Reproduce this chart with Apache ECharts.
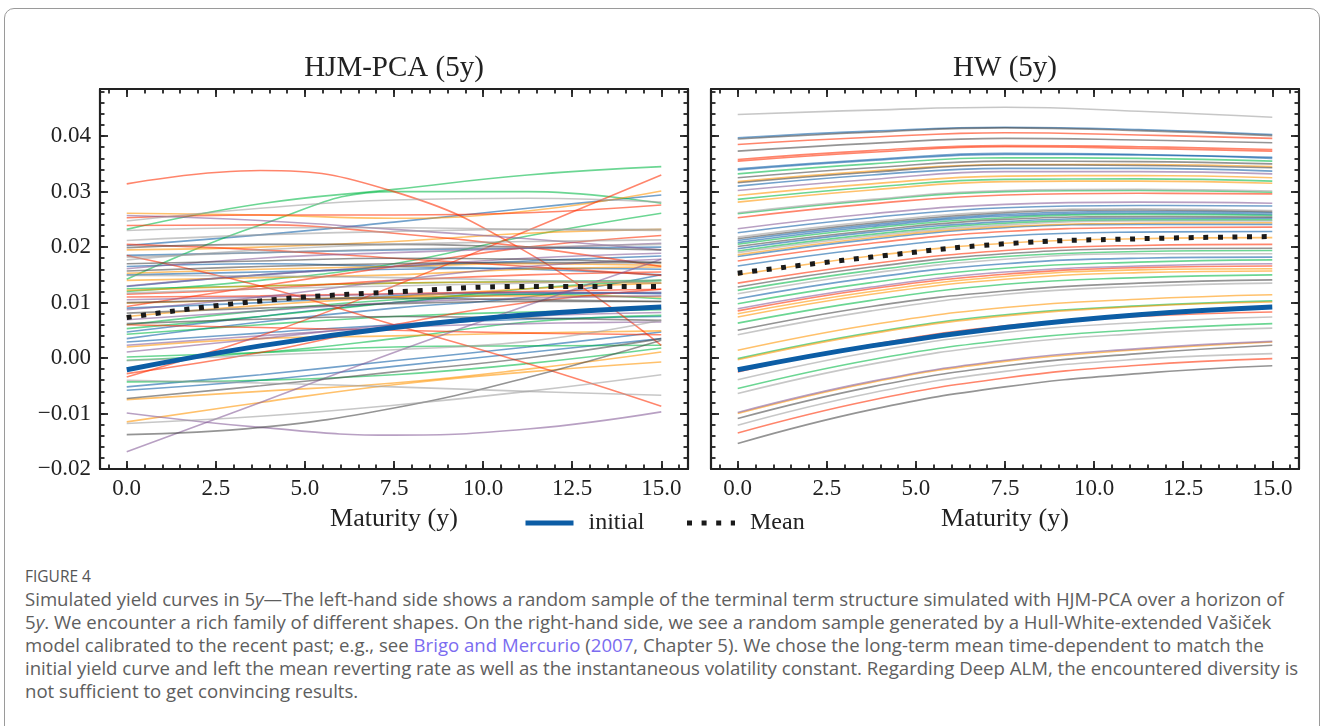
<!DOCTYPE html>
<html><head><meta charset="utf-8">
<script src="https://cdn.jsdelivr.net/npm/echarts@6/dist/echarts.min.js"></script>
<style>
html,body{margin:0;padding:0;background:#fff;width:1326px;height:726px;overflow:hidden;}
#frame{position:absolute;left:4px;top:8px;width:1316px;height:760px;border:1.5px solid #9a9a9a;border-radius:10px;box-sizing:border-box;}
#chart{position:absolute;left:0;top:0;width:1326px;height:560px;}
#cap{position:absolute;left:25px;top:565px;font-family:"Open Sans",sans-serif;color:#5e5e5e;white-space:nowrap;}
#cap .fig{font-size:15.5px;line-height:22px;color:#555;font-weight:500;}
#cap .txt{font-size:18.6px;line-height:23px;}
#cap a{color:#7b6cf0;text-decoration:none;}
</style></head>
<body>
<div id="frame"></div>
<div id="chart"></div>
<div id="cap"><div class="fig">FIGURE 4</div><div class="txt">Simulated yield curves in 5<i>y</i>—The left-hand side shows a random sample of the terminal term structure simulated with HJM-PCA over a horizon of<br>5<i>y</i>. We encounter a rich family of different shapes. On the right-hand side, we see a random sample generated by a Hull-White-extended Vašiček<br>model calibrated to the recent past; e.g., see <a>Brigo and Mercurio</a> (<a>2007</a>, Chapter 5). We chose the long-term mean time-dependent to match the<br>initial yield curve and left the mean reverting rate as well as the instantaneous volatility constant. Regarding Deep ALM, the encountered diversity is<br>not sufficient to get convincing results.</div></div>
<script>
// ---------- data ----------
const maturities = [0, 3.75, 7.5, 11.25, 15];
const xTicks = [0, 2.5, 5, 7.5, 10, 12.5, 15];
const yTicks = [-0.02, -0.01, 0, 0.01, 0.02, 0.03, 0.04];
const panelTitles = ['HJM-PCA (5y)', 'HW (5y)'];

const initialCurve = [-0.0021, 0.0022, 0.0055, 0.0078, 0.0092];
const meanHJM = [0.0073, 0.0103, 0.0119, 0.0129, 0.0129];
const meanHW = [0.0153, 0.0182, 0.0206, 0.0215, 0.0219];

// HJM-PCA sample curves, grouped by colour
const hjmBlue = [
  [0.0203, 0.0222, 0.0245, 0.0270, 0.0294],
  [0.0165, 0.0170, 0.0165, 0.0160, 0.0150],
  [0.0129, 0.0150, 0.0165, 0.0175, 0.0184],
  [0.0047, 0.0075, 0.0100, 0.0115, 0.0118],
  [0.0035, 0.0065, 0.0090, 0.0110, 0.0150],
  [0.0029, 0.0045, 0.0060, 0.0070, 0.0075],
  [-0.0052, -0.0030, -0.0005, 0.0020, 0.0047],
  [-0.0058, -0.0040, -0.0015, 0.0010, 0.0035],
  [0.0150, 0.0155, 0.0160, 0.0162, 0.0160],
  [0.0090, 0.0100, 0.0112, 0.0118, 0.0116],
  [0.0185, 0.0190, 0.0195, 0.0198, 0.0200]
];
const hjmGreen = [
  [0.0232, 0.0278, 0.0304, 0.0330, 0.0345],
  [0.0142, 0.0240, 0.0300, 0.0300, 0.0279],
  [0.0053, 0.0075, 0.0100, 0.0125, 0.0140],
  [0.0043, 0.0060, 0.0075, 0.0083, 0.0087],
  [0.0002, 0.0010, 0.0020, 0.0022, 0.0023],
  [-0.0004, 0.0010, 0.0035, 0.0065, 0.0077],
  [-0.0043, -0.0040, -0.0030, -0.0010, 0.0018],
  [0.0125, 0.0130, 0.0135, 0.0138, 0.0140],
  [0.0060, 0.0085, 0.0105, 0.0115, 0.0107],
  [0.0120, 0.0140, 0.0170, 0.0220, 0.0261]
];
const hjmOrange = [
  [0.0261, 0.0258, 0.0252, 0.0265, 0.0301],
  [0.0195, 0.0200, 0.0210, 0.0225, 0.0232],
  [0.0153, 0.0160, 0.0165, 0.0170, 0.0167],
  [0.0122, 0.0130, 0.0135, 0.0137, 0.0135],
  [0.0099, 0.0105, 0.0110, 0.0112, 0.0110],
  [-0.0075, -0.0060, -0.0045, -0.0020, 0.0011],
  [-0.0115, -0.0080, -0.0048, -0.0025, -0.0007],
  [0.0075, 0.0095, 0.0110, 0.0125, 0.0135],
  [0.0140, 0.0145, 0.0150, 0.0160, 0.0164],
  [0.0020, 0.0035, 0.0040, 0.0045, 0.0049]
];
const hjmRed = [
  [0.0314, 0.0338, 0.0300, 0.0190, 0.0023],
  [0.0253, 0.0258, 0.0258, 0.0262, 0.0276],
  [0.0239, 0.0240, 0.0225, 0.0200, 0.0165],
  [0.0110, 0.0112, 0.0116, 0.0120, 0.0124],
  [0.0093, 0.0130, 0.0165, 0.0200, 0.0221],
  [-0.0028, 0.0010, 0.0060, 0.0100, 0.0124],
  [-0.0034, 0.0040, 0.0130, 0.0230, 0.0330],
  [0.0185, 0.0130, 0.0060, -0.0010, -0.0087],
  [0.0115, 0.0125, 0.0140, 0.0150, 0.0155],
  [0.0205, 0.0195, 0.0180, 0.0165, 0.0149],
  [0.0060, 0.0055, 0.0050, 0.0045, 0.0042]
];
const hjmPurple = [
  [0.0257, 0.0248, 0.0232, 0.0215, 0.0195],
  [0.0161, 0.0180, 0.0190, 0.0198, 0.0207],
  [0.0105, 0.0110, 0.0115, 0.0118, 0.0118],
  [0.0087, 0.0110, 0.0140, 0.0165, 0.0178],
  [0.0069, 0.0085, 0.0100, 0.0108, 0.0112],
  [0.0023, 0.0040, 0.0055, 0.0062, 0.0065],
  [0.0011, 0.0035, 0.0060, 0.0075, 0.0082],
  [-0.0099, -0.0125, -0.0139, -0.0128, -0.0097],
  [-0.0169, -0.0080, 0.0010, 0.0095, 0.0178],
  [0.0130, 0.0150, 0.0165, 0.0180, 0.0189]
];
const hjmDark = [
  [0.0199, 0.0205, 0.0205, 0.0200, 0.0195],
  [0.0157, 0.0165, 0.0170, 0.0172, 0.0172],
  [0.0081, 0.0090, 0.0098, 0.0102, 0.0102],
  [0.0062, 0.0070, 0.0075, 0.0072, 0.0068],
  [-0.0073, -0.0050, -0.0025, 0.0000, 0.0035],
  [-0.0138, -0.0125, -0.0090, -0.0035, 0.0032],
  [0.0170, 0.0175, 0.0180, 0.0178, 0.0172],
  [0.0100, 0.0105, 0.0108, 0.0105, 0.0102]
];
const hjmGrey = [
  [0.0247, 0.0270, 0.0285, 0.0288, 0.0281],
  [0.0212, 0.0222, 0.0228, 0.0232, 0.0232],
  [0.0182, 0.0190, 0.0196, 0.0200, 0.0205],
  [0.0177, 0.0195, 0.0205, 0.0210, 0.0213],
  [0.0149, 0.0148, 0.0145, 0.0140, 0.0135],
  [0.0117, 0.0125, 0.0130, 0.0135, 0.0140],
  [-0.0118, -0.0105, -0.0085, -0.0060, -0.0030],
  [-0.0040, -0.0045, -0.0052, -0.0060, -0.0067],
  [0.0230, 0.0235, 0.0235, 0.0232, 0.0230],
  [-0.0005, 0.0005, 0.0015, 0.0030, 0.0068]
];

// Hull-White sample curves, grouped by colour
const hwBlue = [
  [0.0397, 0.0409, 0.0416, 0.0412, 0.0403],
  [0.0341, 0.0358, 0.0369, 0.0367, 0.0362],
  [0.0339, 0.0356, 0.0367, 0.0366, 0.0360],
  [0.0310, 0.0330, 0.0342, 0.0342, 0.0337],
  [0.0226, 0.0253, 0.0271, 0.0275, 0.0274],
  [0.0212, 0.0240, 0.0259, 0.0264, 0.0262],
  [0.0208, 0.0237, 0.0256, 0.0261, 0.0259],
  [0.0197, 0.0227, 0.0246, 0.0252, 0.0252],
  [0.0183, 0.0214, 0.0235, 0.0241, 0.0241],
  [0.0166, 0.0198, 0.0220, 0.0227, 0.0228],
  [0.0107, 0.0145, 0.0170, 0.0180, 0.0182]
];
const hwGreen = [
  [0.0332, 0.0350, 0.0361, 0.0360, 0.0355],
  [0.0286, 0.0308, 0.0322, 0.0323, 0.0319],
  [0.0260, 0.0284, 0.0300, 0.0302, 0.0299],
  [0.0205, 0.0234, 0.0253, 0.0259, 0.0257],
  [0.0193, 0.0223, 0.0243, 0.0249, 0.0249],
  [0.0122, 0.0158, 0.0183, 0.0192, 0.0194],
  [0.0098, 0.0136, 0.0162, 0.0173, 0.0177],
  [0.0063, 0.0104, 0.0133, 0.0145, 0.0150],
  [-0.0001, 0.0046, 0.0078, 0.0094, 0.0103],
  [-0.0055, -0.0003, 0.0032, 0.0051, 0.0062]
];
const hwOrange = [
  [0.0318, 0.0337, 0.0349, 0.0349, 0.0345],
  [0.0293, 0.0314, 0.0328, 0.0329, 0.0325],
  [0.0281, 0.0303, 0.0318, 0.0319, 0.0315],
  [0.0186, 0.0217, 0.0237, 0.0243, 0.0244],
  [0.0150, 0.0184, 0.0207, 0.0215, 0.0217],
  [0.0080, 0.0120, 0.0147, 0.0159, 0.0161],
  [0.0074, 0.0115, 0.0142, 0.0154, 0.0157],
  [0.0014, 0.0060, 0.0091, 0.0106, 0.0114],
  [-0.0003, 0.0044, 0.0076, 0.0093, 0.0101],
  [-0.0100, -0.0044, -0.0006, 0.0015, 0.0029]
];
const hwRed = [
  [0.0385, 0.0398, 0.0406, 0.0402, 0.0396],
  [0.0358, 0.0374, 0.0383, 0.0381, 0.0376],
  [0.0355, 0.0371, 0.0381, 0.0378, 0.0373],
  [0.0253, 0.0278, 0.0294, 0.0297, 0.0296],
  [0.0175, 0.0207, 0.0228, 0.0235, 0.0236],
  [0.0135, 0.0170, 0.0194, 0.0203, 0.0205],
  [0.0085, 0.0125, 0.0151, 0.0163, 0.0166],
  [-0.0025, 0.0024, 0.0058, 0.0075, 0.0083],
  [-0.0135, -0.0076, -0.0036, -0.0013, -0.0001]
];
const hwPurple = [
  [0.0302, 0.0322, 0.0336, 0.0336, 0.0332],
  [0.0233, 0.0260, 0.0277, 0.0281, 0.0279],
  [0.0089, 0.0128, 0.0155, 0.0166, 0.0170],
  [-0.0098, -0.0042, -0.0004, 0.0017, 0.0030]
];
const hwDark = [
  [0.0395, 0.0407, 0.0415, 0.0410, 0.0401],
  [0.0373, 0.0387, 0.0396, 0.0393, 0.0388],
  [0.0325, 0.0343, 0.0355, 0.0354, 0.0350],
  [0.0316, 0.0335, 0.0348, 0.0347, 0.0343],
  [0.0215, 0.0243, 0.0262, 0.0267, 0.0264],
  [0.0201, 0.0230, 0.0250, 0.0255, 0.0254],
  [0.0128, 0.0164, 0.0188, 0.0197, 0.0198],
  [0.0050, 0.0093, 0.0121, 0.0135, 0.0141],
  [-0.0109, -0.0052, -0.0014, 0.0008, 0.0023],
  [-0.0154, -0.0093, -0.0052, -0.0028, -0.0014]
];
const hwGrey = [
  [0.0439, 0.0447, 0.0452, 0.0445, 0.0434],
  [0.0262, 0.0286, 0.0302, 0.0304, 0.0301],
  [0.0218, 0.0246, 0.0264, 0.0269, 0.0266],
  [0.0190, 0.0220, 0.0240, 0.0247, 0.0247],
  [0.0116, 0.0153, 0.0178, 0.0188, 0.0188],
  [0.0042, 0.0085, 0.0115, 0.0129, 0.0135],
  [-0.0039, 0.0011, 0.0046, 0.0064, 0.0074],
  [-0.0064, -0.0011, 0.0025, 0.0044, 0.0054],
  [-0.0121, -0.0063, -0.0024, -0.0002, 0.0008]
];

// ---------- styling ----------
const ALPHA = 0.58;
const palette = {
  blue: `rgba(12,93,165,${ALPHA})`, green: `rgba(0,185,69,${ALPHA})`, orange: `rgba(255,149,0,${ALPHA})`,
  red: `rgba(255,44,0,${ALPHA})`, purple: `rgba(132,91,151,${ALPHA})`, dark: `rgba(71,71,71,${ALPHA})`, grey: `rgba(158,158,158,${ALPHA})`
};
const groups = [
  [0, {blue: hjmBlue, green: hjmGreen, orange: hjmOrange, red: hjmRed, purple: hjmPurple, dark: hjmDark, grey: hjmGrey}],
  [1, {blue: hwBlue, green: hwGreen, orange: hwOrange, red: hwRed, purple: hwPurple, dark: hwDark, grey: hwGrey}]
];
const SERIF = 'Liberation Serif';
const INK = '#222';
const pts = arr => arr.map((v, i) => [maturities[i], v]);

const xMinor = [], yMinor = [];
for (let k = -1; k <= 31; k++) xMinor.push(k * 0.5);
for (let k = 0; k <= 34; k++) yMinor.push(Math.round((-0.02 + 0.002 * k) * 10000) / 10000);

const grids = [
  {left: 100, top: 89, width: 588, height: 380},
  {left: 711, top: 89, width: 588, height: 380}
];
const xAxis = [], yAxis = [];
const lineSt = {color: INK, width: 2.2};
const tickSt = {color: INK, width: 1.8};
const tickFont = {fontFamily: SERIF, fontSize: 23, color: INK};
grids.forEach((g, gi) => {
  const base = {gridIndex: gi, type: 'value', min: -0.75, max: 15.75, splitLine: {show: false}};
  xAxis.push(Object.assign({}, base, {position: 'bottom',
    axisLine: {onZero: false, lineStyle: lineSt},
    axisTick: {inside: true, length: 8, customValues: xTicks, lineStyle: tickSt},
    axisLabel: Object.assign({customValues: xTicks, formatter: v => v.toFixed(1), margin: 8}, tickFont),
    name: 'Maturity (y)', nameLocation: 'middle', nameGap: 37,
    nameTextStyle: {fontFamily: SERIF, fontSize: 26, color: INK}}));
  xAxis.push(Object.assign({}, base, {position: 'bottom', axisLine: {show: false, onZero: false},
    axisTick: {inside: true, length: 4.5, customValues: xMinor, lineStyle: tickSt}, axisLabel: {show: false}}));
  xAxis.push(Object.assign({}, base, {position: 'top', axisLine: {onZero: false, lineStyle: lineSt},
    axisTick: {inside: true, length: 8, customValues: xTicks, lineStyle: tickSt}, axisLabel: {show: false}}));
  xAxis.push(Object.assign({}, base, {position: 'top', axisLine: {show: false, onZero: false},
    axisTick: {inside: true, length: 4.5, customValues: xMinor, lineStyle: tickSt}, axisLabel: {show: false}}));
  const ybase = {gridIndex: gi, type: 'value', min: -0.02, max: 0.0485, splitLine: {show: false}};
  yAxis.push(Object.assign({}, ybase, {position: 'left',
    axisLine: {onZero: false, lineStyle: lineSt},
    axisTick: {inside: true, length: 8, customValues: yTicks, lineStyle: tickSt},
    axisLabel: Object.assign({show: gi === 0, customValues: yTicks, margin: 9,
      formatter: v => (v < 0 ? '\u2212' : '') + Math.abs(v).toFixed(2)}, tickFont)}));
  yAxis.push(Object.assign({}, ybase, {position: 'left', axisLine: {show: false, onZero: false},
    axisTick: {inside: true, length: 4.5, customValues: yMinor, lineStyle: tickSt}, axisLabel: {show: false}}));
  yAxis.push(Object.assign({}, ybase, {position: 'right', axisLine: {onZero: false, lineStyle: lineSt},
    axisTick: {inside: true, length: 8, customValues: yTicks, lineStyle: tickSt}, axisLabel: {show: false}}));
  yAxis.push(Object.assign({}, ybase, {position: 'right', axisLine: {show: false, onZero: false},
    axisTick: {inside: true, length: 4.5, customValues: yMinor, lineStyle: tickSt}, axisLabel: {show: false}}));
});

const series = [];
groups.forEach(([gi, byColour]) => {
  Object.keys(byColour).forEach(c => {
    byColour[c].forEach(curve => {
      series.push({type: 'line', xAxisIndex: gi * 4, yAxisIndex: gi * 4, data: pts(curve), smooth: 0.45,
        symbol: 'none', silent: true, lineStyle: {width: 1.6, color: palette[c]}, itemStyle: {color: palette[c]}, z: 2});
    });
  });
});
const INIT_C = '#0C5DA5', MEAN_C = '#1a1a1a';
[[0, meanHJM], [1, meanHW]].forEach(([gi, m]) => {
  series.push({name: 'initial', type: 'line', xAxisIndex: gi * 4, yAxisIndex: gi * 4, data: pts(initialCurve), smooth: 0.45,
    symbol: 'none', silent: true, lineStyle: {width: 5, color: INIT_C}, itemStyle: {color: INIT_C}, z: 5});
  series.push({name: 'Mean', type: 'line', xAxisIndex: gi * 4, yAxisIndex: gi * 4, data: pts(m), smooth: 0.45,
    symbol: 'none', silent: true, lineStyle: {width: 5, color: MEAN_C, type: [5, 9.6], cap: 'butt'}, itemStyle: {color: MEAN_C}, z: 6});
});

const chart = echarts.init(document.getElementById('chart'), null, {renderer: 'canvas'});
chart.setOption({
  animation: false,
  backgroundColor: 'transparent',
  textStyle: {fontFamily: SERIF, color: INK},
  title: panelTitles.map((t, i) => ({text: t, left: grids[i].left + grids[i].width / 2, top: 54, textAlign: 'center', padding: 0,
    textStyle: {fontFamily: SERIF, fontSize: 29, fontWeight: 'normal', color: INK}})),
  legend: {left: 523, top: 511, padding: 0, itemWidth: 48, itemHeight: 14, itemGap: 40,
    textStyle: {fontFamily: SERIF, fontSize: 24, color: INK, padding: [0, 0, 0, 10]},
    data: [
      {name: 'initial', itemStyle: {opacity: 0}, lineStyle: {width: 5, color: INIT_C}},
      {name: 'Mean', itemStyle: {opacity: 0}, lineStyle: {width: 5, color: MEAN_C, type: [5, 9.6]}}
    ]},
  grid: grids,
  xAxis: xAxis,
  yAxis: yAxis,
  series: series
});
</script>
</body></html>
